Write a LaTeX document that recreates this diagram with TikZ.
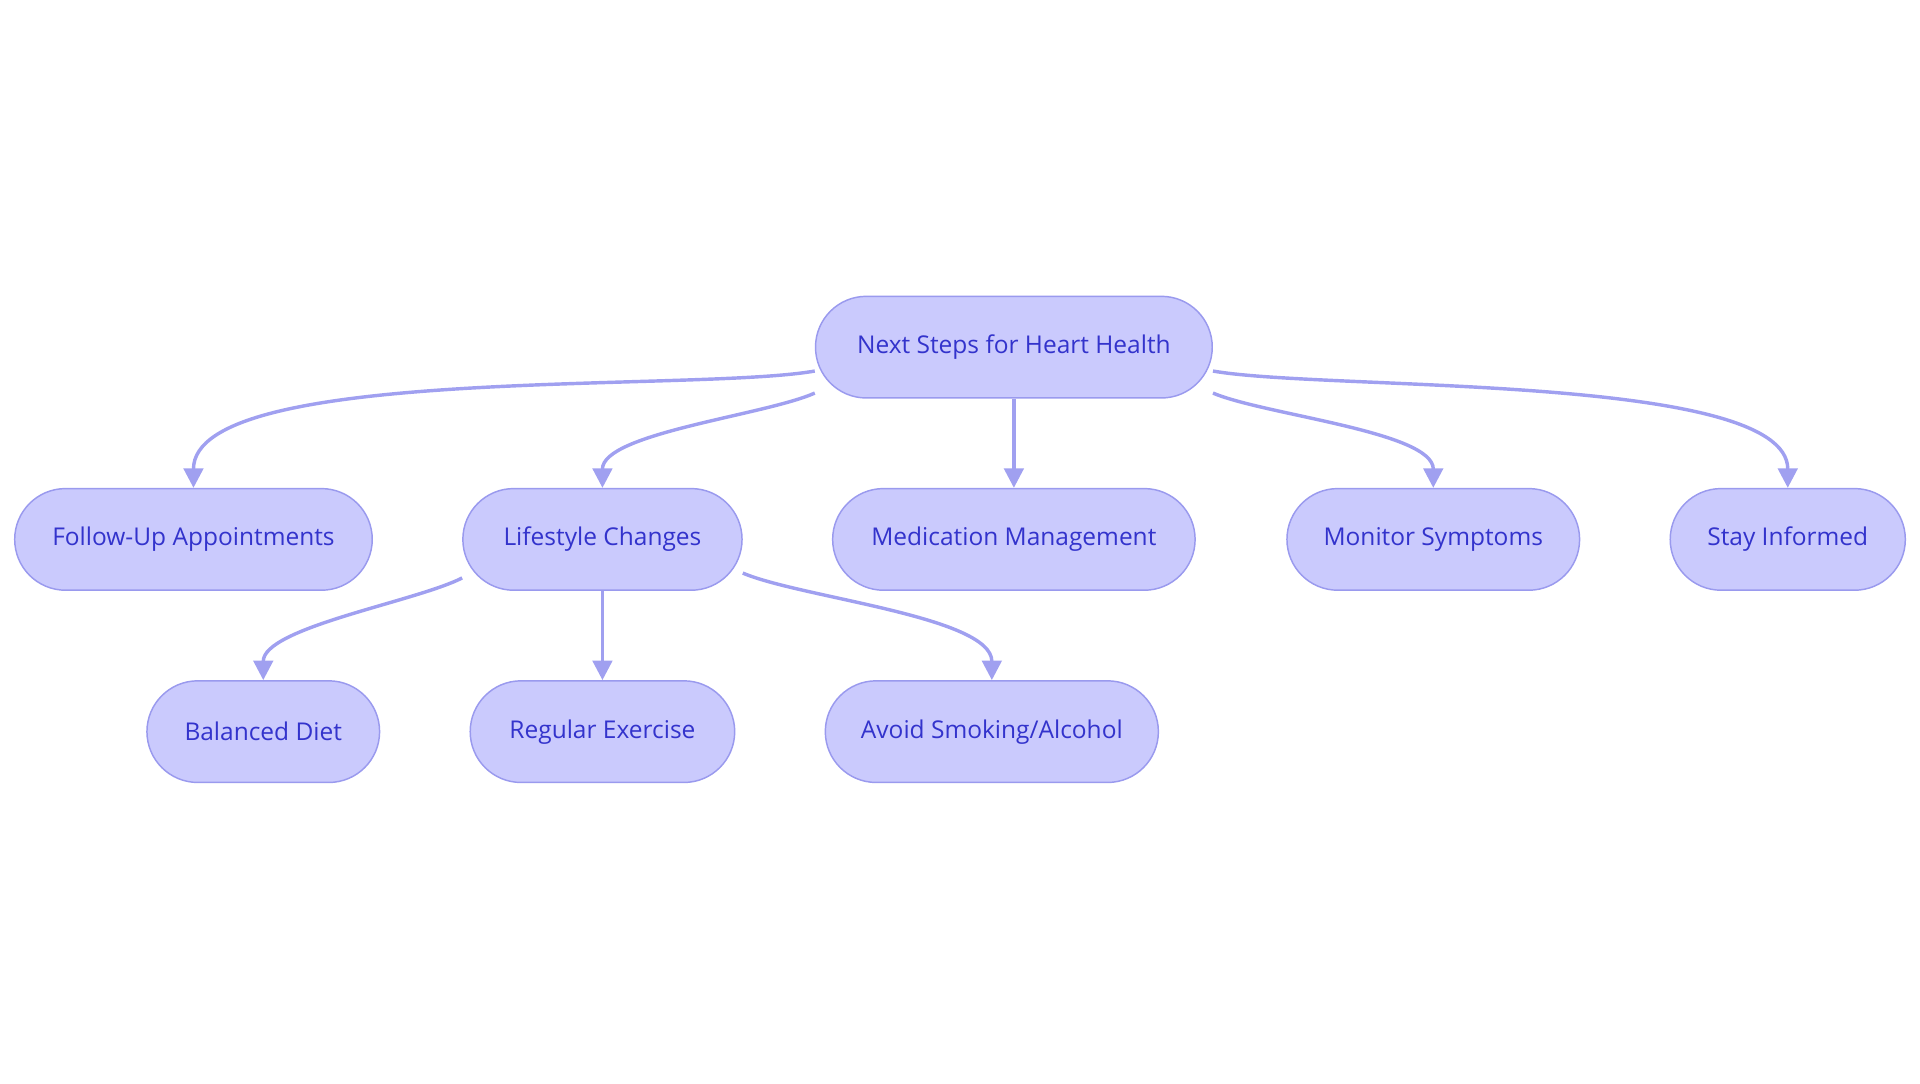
\documentclass[tikz,border=0pt]{standalone}
\usepackage{fontspec}
\setmainfont{Open Sans}
\usetikzlibrary{arrows.meta}
\definecolor{nfill}{HTML}{CACAFD}
\definecolor{ndraw}{HTML}{9A9AEE}
\definecolor{ntext}{HTML}{3333CC}
\definecolor{edge}{HTML}{A0A0F0}
\begin{document}
\begin{tikzpicture}[x=0.5pt,y=-0.5pt,
  box/.style={draw=ndraw,fill=nfill,line width=0.6pt,rounded corners=20.75pt,minimum height=41.5pt,inner sep=0pt,text=ntext,font=\fontsize{10}{12}\selectfont},
  con/.style={draw=edge,line width=1.4pt,-{Triangle[length=8pt,width=8pt]}}]
\useasboundingbox (0,0) rectangle (1568,884.5);
\node[box,minimum width=162pt] (root) at (828,283.5) {Next Steps for Heart Health};
\node[box,minimum width=146pt] (fu) at (158,440.5) {Follow-Up Appointments};
\node[box,minimum width=114pt] (ls) at (492,440.5) {Lifestyle Changes};
\node[box,minimum width=148pt] (med) at (828,440.5) {Medication Management};
\node[box,minimum width=119.5pt] (mon) at (1170.5,440.5) {Monitor Symptoms};
\node[box,minimum width=96pt] (stay) at (1460,440.5) {Stay Informed};
\node[box,minimum width=95pt] (bd) at (215,597.5) {Balanced Diet};
\node[box,minimum width=108pt] (re) at (492,597.5) {Regular Exercise};
\node[box,minimum width=136pt] (av) at (810,597.5) {Avoid Smoking/Alcohol};
\draw[con] ([yshift=-9.75pt]root.west) to[out=190,in=90,looseness=0.5] (fu.north);
\draw[con] ([yshift=-18.75pt]root.west) to[out=204,in=90,looseness=0.6] (ls.north);
\draw[con] (root.south) -- (med.north);
\draw[con] ([yshift=-18.75pt]root.east) to[out=-23,in=90,looseness=0.6] (mon.north);
\draw[con] ([yshift=-9.75pt]root.east) to[out=-10,in=90,looseness=0.5] (stay.north);
\draw[con] ([yshift=-15.75pt]ls.west) to[out=207,in=90,looseness=0.6] (bd.north);
\draw[con] (ls.south) -- (re.north);
\draw[con] ([yshift=-13.75pt]ls.east) to[out=-23,in=90,looseness=0.6] (av.north);
\end{tikzpicture}
\end{document}
